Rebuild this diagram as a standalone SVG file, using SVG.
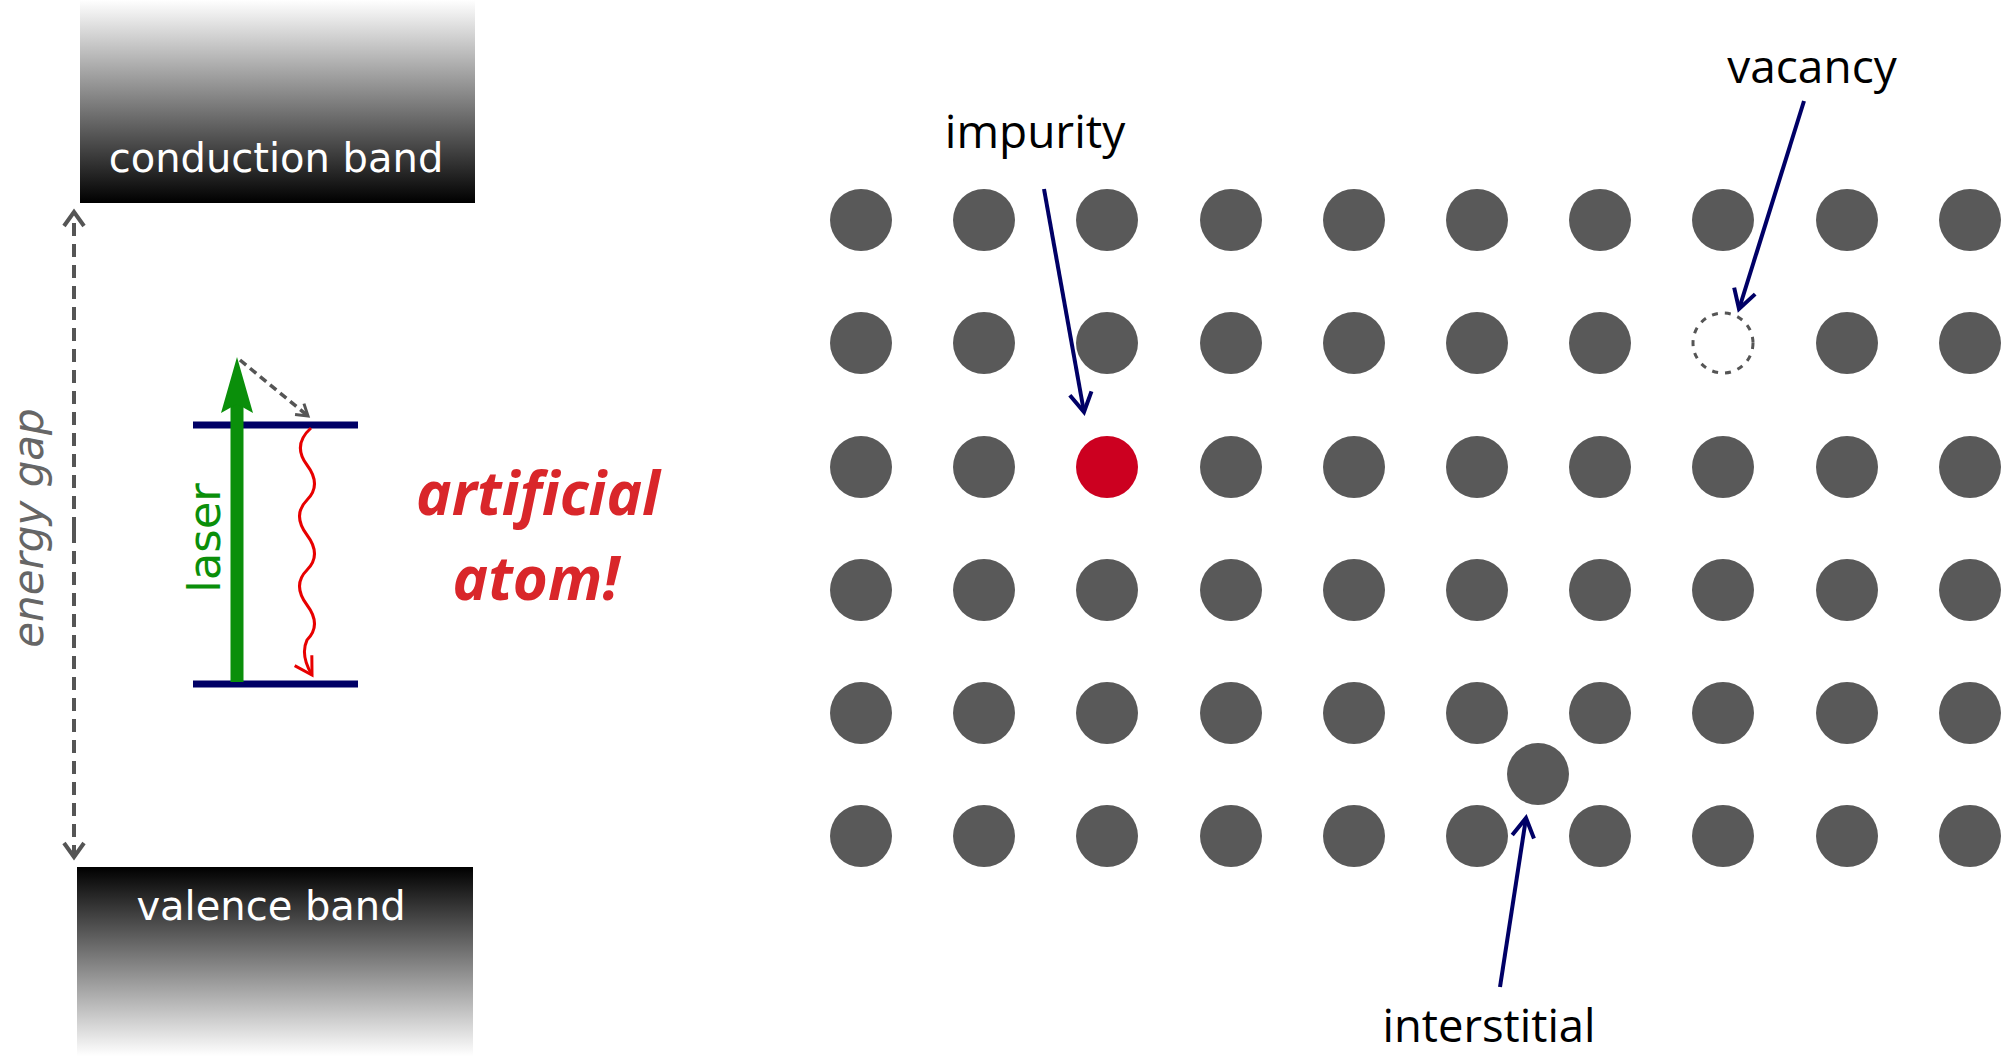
<svg xmlns="http://www.w3.org/2000/svg" width="2001" height="1056" viewBox="0 0 2001 1056">
<defs>
<linearGradient id="gCond" x1="0" y1="0" x2="0" y2="1">
<stop offset="0" stop-color="#ffffff"/>
<stop offset="1" stop-color="#000000"/>
</linearGradient>
<linearGradient id="gVal" x1="0" y1="0" x2="0" y2="1">
<stop offset="0" stop-color="#000000"/>
<stop offset="1" stop-color="#ffffff"/>
</linearGradient>
<marker id="mNavy" markerUnits="userSpaceOnUse" markerWidth="40" markerHeight="40" refX="0" refY="0" orient="auto" overflow="visible">
<path d="M-19,-11 L0,0 L-19,11" fill="none" stroke="#000066" stroke-width="4" stroke-linejoin="miter"/>
</marker>
<marker id="mGray" markerUnits="userSpaceOnUse" markerWidth="30" markerHeight="30" refX="0" refY="0" orient="auto" overflow="visible">
<path d="M-14,-10 L0,0 L-14,10" fill="none" stroke="#555555" stroke-width="4"/>
</marker>
<marker id="mGraySmall" markerUnits="userSpaceOnUse" markerWidth="30" markerHeight="30" refX="0" refY="0" orient="auto" overflow="visible">
<path d="M-11,-7 L0,0 L-11,7" fill="none" stroke="#555555" stroke-width="3"/>
</marker>
<marker id="mRed" markerUnits="userSpaceOnUse" markerWidth="30" markerHeight="30" refX="0" refY="0" orient="auto" overflow="visible">
<path d="M-17,-10 L0,0 L-17,10" fill="none" stroke="#e80000" stroke-width="3"/>
</marker>
</defs>
<style>
.band{font-family:"DejaVu Sans",Verdana,sans-serif;font-size:40px;fill:#ffffff;text-anchor:middle}
.atom{fill:#595959}
.lbl{font-family:"Open Sans","Liberation Sans",sans-serif;font-size:46px;fill:#000000;text-anchor:middle}
.lvl{stroke:#000066;stroke-width:7}
.ptr{stroke:#000066;stroke-width:4;fill:none;marker-end:url(#mNavy)}
</style>
<rect width="2001" height="1056" fill="#ffffff"/>

<g id="conduction-band">
<rect x="80" y="0" width="395" height="203" fill="url(#gCond)"/>
<text class="band" x="276" y="172">conduction band</text>
</g>
<g id="valence-band">
<rect x="77" y="867" width="396" height="189" fill="url(#gVal)"/>
<text class="band" x="271" y="920">valence band</text>
</g>
<g id="energy-gap">
<text x="0" y="0" transform="translate(43,528) rotate(-90)" font-family="DejaVu Sans,sans-serif" font-style="italic" font-size="42" fill="#666666" text-anchor="middle">energy gap</text>
</g>
<g id="levels">
<line class="lvl" x1="193" y1="425" x2="358" y2="425"/>
<line class="lvl" x1="193" y1="684" x2="358" y2="684"/>
</g>
<g id="laser">
<rect x="230.5" y="400" width="13" height="282" fill="#0a8f0a"/>
<polygon points="237,357 253,413 237,404 221,413" fill="#0a8f0a"/>
<text x="0" y="0" transform="translate(220,538) rotate(-90)" font-family="DejaVu Sans,sans-serif" font-size="45" fill="#0a8f0a" text-anchor="middle">laser</text>
</g>
<g id="artificial-atom">
<text x="538" y="515" font-family="Open Sans,sans-serif" font-weight="bold" font-style="italic" font-size="60" fill="#d9262a" text-anchor="middle">artificial</text>
<text x="536" y="600" font-family="Open Sans,sans-serif" font-weight="bold" font-style="italic" font-size="60" fill="#d9262a" text-anchor="middle">atom!</text>
</g>

<g id="lattice">
<circle class="atom" cx="861" cy="220" r="31"/><circle class="atom" cx="984" cy="220" r="31"/><circle class="atom" cx="1107" cy="220" r="31"/><circle class="atom" cx="1231" cy="220" r="31"/><circle class="atom" cx="1354" cy="220" r="31"/><circle class="atom" cx="1477" cy="220" r="31"/><circle class="atom" cx="1600" cy="220" r="31"/><circle class="atom" cx="1723" cy="220" r="31"/><circle class="atom" cx="1847" cy="220" r="31"/><circle class="atom" cx="1970" cy="220" r="31"/>
<circle class="atom" cx="861" cy="343" r="31"/><circle class="atom" cx="984" cy="343" r="31"/><circle class="atom" cx="1107" cy="343" r="31"/><circle class="atom" cx="1231" cy="343" r="31"/><circle class="atom" cx="1354" cy="343" r="31"/><circle class="atom" cx="1477" cy="343" r="31"/><circle class="atom" cx="1600" cy="343" r="31"/><circle class="atom" cx="1847" cy="343" r="31"/><circle class="atom" cx="1970" cy="343" r="31"/>
<circle class="atom" cx="861" cy="467" r="31"/><circle class="atom" cx="984" cy="467" r="31"/><circle class="atom" cx="1231" cy="467" r="31"/><circle class="atom" cx="1354" cy="467" r="31"/><circle class="atom" cx="1477" cy="467" r="31"/><circle class="atom" cx="1600" cy="467" r="31"/><circle class="atom" cx="1723" cy="467" r="31"/><circle class="atom" cx="1847" cy="467" r="31"/><circle class="atom" cx="1970" cy="467" r="31"/>
<circle class="atom" cx="861" cy="590" r="31"/><circle class="atom" cx="984" cy="590" r="31"/><circle class="atom" cx="1107" cy="590" r="31"/><circle class="atom" cx="1231" cy="590" r="31"/><circle class="atom" cx="1354" cy="590" r="31"/><circle class="atom" cx="1477" cy="590" r="31"/><circle class="atom" cx="1600" cy="590" r="31"/><circle class="atom" cx="1723" cy="590" r="31"/><circle class="atom" cx="1847" cy="590" r="31"/><circle class="atom" cx="1970" cy="590" r="31"/>
<circle class="atom" cx="861" cy="713" r="31"/><circle class="atom" cx="984" cy="713" r="31"/><circle class="atom" cx="1107" cy="713" r="31"/><circle class="atom" cx="1231" cy="713" r="31"/><circle class="atom" cx="1354" cy="713" r="31"/><circle class="atom" cx="1477" cy="713" r="31"/><circle class="atom" cx="1600" cy="713" r="31"/><circle class="atom" cx="1723" cy="713" r="31"/><circle class="atom" cx="1847" cy="713" r="31"/><circle class="atom" cx="1970" cy="713" r="31"/>
<circle class="atom" cx="861" cy="836" r="31"/><circle class="atom" cx="984" cy="836" r="31"/><circle class="atom" cx="1107" cy="836" r="31"/><circle class="atom" cx="1231" cy="836" r="31"/><circle class="atom" cx="1354" cy="836" r="31"/><circle class="atom" cx="1477" cy="836" r="31"/><circle class="atom" cx="1600" cy="836" r="31"/><circle class="atom" cx="1723" cy="836" r="31"/><circle class="atom" cx="1847" cy="836" r="31"/><circle class="atom" cx="1970" cy="836" r="31"/>
</g>
<g id="impurity-atom"><circle cx="1107" cy="467" r="31" fill="#cc0020"/></g>
<g id="vacancy-site"><circle cx="1723" cy="343" r="30" fill="none" stroke="#555555" stroke-width="3" stroke-dasharray="6 7"/></g>
<g id="interstitial-atom"><circle class="atom" cx="1538" cy="774" r="31"/></g>
<g id="impurity-label"><text class="lbl" x="1035" y="148">impurity</text></g>
<g id="vacancy-label"><text class="lbl" x="1812" y="83">vacancy</text></g>
<g id="interstitial-label"><text class="lbl" x="1489" y="1042" textLength="213" lengthAdjust="spacingAndGlyphs">interstitial</text></g>

<g id="connectors">
<line x1="74" y1="530" x2="74" y2="212" stroke="#555555" stroke-width="4" stroke-dasharray="13 8" marker-end="url(#mGray)"/>
<line x1="74" y1="530" x2="74" y2="857" stroke="#555555" stroke-width="4" stroke-dasharray="13 8" marker-end="url(#mGray)"/>
<line x1="240" y1="360" x2="308" y2="416" stroke="#555555" stroke-width="3.5" stroke-dasharray="8 5" marker-end="url(#mGraySmall)"/>
<path d="M311,428 Q292,445 307,465 T307,500 T307,535 T307,570 T307,605 T307,640 Q300,655 312,675" fill="none" stroke="#e80000" stroke-width="3" marker-end="url(#mRed)"/>
<line class="ptr" x1="1044" y1="189" x2="1084" y2="412"/>
<line class="ptr" x1="1804" y1="101" x2="1739" y2="309"/>
<line class="ptr" x1="1500" y1="987" x2="1526" y2="818"/>
</g>
</svg>
